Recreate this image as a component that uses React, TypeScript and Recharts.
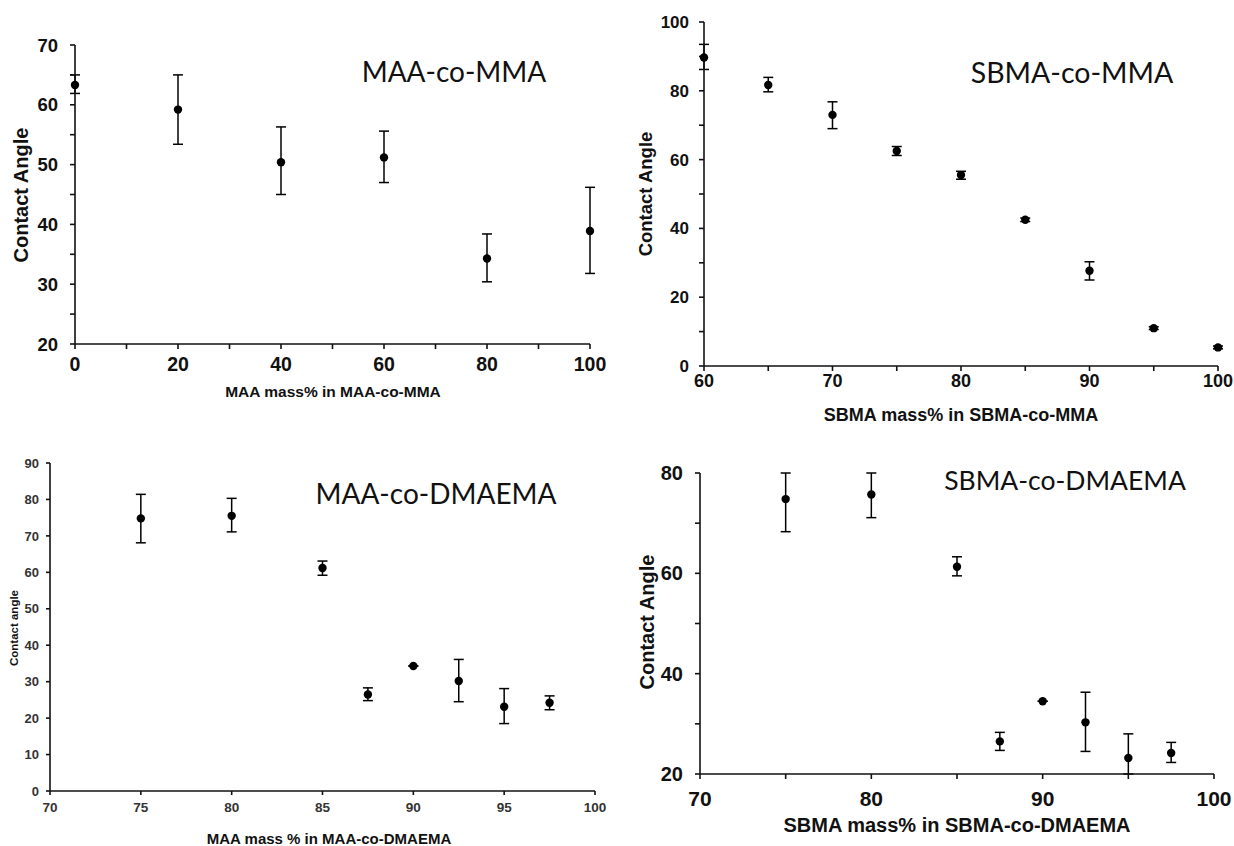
import { ScatterChart, Scatter, XAxis, YAxis, ErrorBar } from "recharts";

// MAA-co-MMA
const maaMmaX = [0, 20, 40, 60, 80, 100];
const maaMmaY = [63.3, 59.2, 50.4, 51.2, 34.3, 38.9];
const maaMmaLow = [61.9, 53.4, 45.0, 47.0, 30.4, 31.8];
const maaMmaHigh = [65.0, 65.0, 56.3, 55.6, 38.4, 46.2];

// SBMA-co-MMA
const sbmaMmaX = [60, 65, 70, 75, 80, 85, 90, 95, 100];
const sbmaMmaY = [89.7, 81.7, 73.0, 62.5, 55.5, 42.5, 27.7, 11.0, 5.4];
const sbmaMmaLow = [86.2, 79.7, 69.0, 61.2, 54.3, 42.0, 25.0, 10.6, 5.0];
const sbmaMmaHigh = [93.5, 83.9, 76.8, 63.8, 56.6, 43.0, 30.3, 11.4, 5.8];

// MAA-co-DMAEMA
const maaDmaemaX = [75, 80, 85, 87.5, 90, 92.5, 95, 97.5];
const maaDmaemaY = [74.8, 75.5, 61.2, 26.5, 34.3, 30.2, 23.1, 24.2];
const maaDmaemaLow = [68.1, 71.1, 59.2, 24.8, 34.3, 24.5, 18.5, 22.3];
const maaDmaemaHigh = [81.4, 80.3, 63.1, 28.3, 34.3, 36.1, 28.1, 26.1];

// SBMA-co-DMAEMA (bars cut at the plot frame, as drawn)
const sbmaDmaemaX = [75, 80, 85, 87.5, 90, 92.5, 95, 97.5];
const sbmaDmaemaY = [74.8, 75.7, 61.3, 26.5, 34.5, 30.3, 23.2, 24.2];
const sbmaDmaemaLow = [68.3, 71.1, 59.5, 24.7, 34.5, 24.5, 20.0, 22.3];
const sbmaDmaemaHigh = [80.0, 80.0, 63.3, 28.3, 34.5, 36.3, 28.0, 26.3];

// ticks (all positions) and the ones that get a label
const p1XTicks = [0, 10, 20, 30, 40, 50, 60, 70, 80, 90, 100];
const p1XLabels = [0, 20, 40, 60, 80, 100];
const p1YTicks = [20, 25, 30, 35, 40, 45, 50, 55, 60, 65, 70];
const p1YLabels = [20, 30, 40, 50, 60, 70];

const p2XTicks = [60, 65, 70, 75, 80, 85, 90, 95, 100];
const p2XLabels = [60, 70, 80, 90, 100];
const p2YTicks = [0, 10, 20, 30, 40, 50, 60, 70, 80, 90, 100];
const p2YLabels = [0, 20, 40, 60, 80, 100];

const p3XTicks = [70, 75, 80, 85, 90, 95, 100];
const p3XLabels = [70, 75, 80, 85, 90, 95, 100];
const p3YTicks = [0, 10, 20, 30, 40, 50, 60, 70, 80, 90];
const p3YLabels = [0, 10, 20, 30, 40, 50, 60, 70, 80, 90];

const p4XTicks = [70, 75, 80, 85, 90, 95, 100];
const p4XLabels = [70, 80, 90, 100];
const p4YTicks = [20, 30, 40, 50, 60, 70, 80];
const p4YLabels = [20, 40, 60, 80];

const buildRows = (xs: number[], ys: number[], lo: number[], hi: number[]) =>
  xs.map((x, i) => ({ x, y: ys[i], err: [ys[i] - lo[i], hi[i] - ys[i]] }));

const BOLD = "'Liberation Sans', Arial, sans-serif";
const TITLE = "Lato, 'Noto Sans', sans-serif";

interface PanelProps {
  rows: { x: number; y: number; err: number[] }[];
  plot: { left: number; top: number; right: number; bottom: number };
  xDomain: [number, number];
  yDomain: [number, number];
  xTicks: number[];
  xLabels: number[];
  yTicks: number[];
  yLabels: number[];
  xFont: number;
  yFont: number;
  tickColor?: string;
  tickSize: number;
  xGap: number;
  yGap: number;
}

function Panel({
  rows, plot, xDomain, yDomain, xTicks, xLabels, yTicks, yLabels,
  xFont, yFont, tickColor = "#111", tickSize, xGap, yGap,
}: PanelProps) {
  const yW = 70;
  const xH = 50;
  const padT = 12;
  const padR = 24;
  const w = plot.right - plot.left + yW + padR;
  const h = plot.bottom - plot.top + padT + xH;
  const font = { fill: tickColor, fontWeight: 700, fontFamily: BOLD };
  const line = { stroke: "#111", strokeWidth: 1.6 };
  return (
    <div style={{ position: "absolute", left: plot.left - yW, top: plot.top - padT }}>
      <ScatterChart width={w} height={h} margin={{ top: padT, right: padR, bottom: 0, left: 0 }}>
        <XAxis
          type="number" dataKey="x" domain={xDomain} ticks={xTicks} interval={0}
          height={xH} tick={{ ...font, fontSize: xFont }} tickSize={tickSize} tickMargin={xGap}
          axisLine={line} tickLine={line}
          tickFormatter={(v: number) => (xLabels.includes(v) ? String(v) : "")}
        />
        <YAxis
          type="number" dataKey="y" domain={yDomain} ticks={yTicks} interval={0}
          width={yW} tick={{ ...font, fontSize: yFont }} tickSize={tickSize} tickMargin={yGap}
          axisLine={line} tickLine={line}
          tickFormatter={(v: number) => (yLabels.includes(v) ? String(v) : "")}
        />
        <Scatter
          data={rows}
          isAnimationActive={false}
          shape={(p: any) => <circle cx={p.cx} cy={p.cy} r={4.2} fill="#000" />}
        >
          <ErrorBar dataKey="err" direction="y" width={5} stroke="#000" strokeWidth={1.5} />
        </Scatter>
      </ScatterChart>
    </div>
  );
}

function Txt({ x, y, size, children, rotate = false, bold = true, family = BOLD }: any) {
  return (
    <div
      style={{
        position: "absolute", left: x, top: y, whiteSpace: "nowrap",
        transform: `translate(-50%, -50%)${rotate ? " rotate(-90deg)" : ""}`,
        fontFamily: family, fontSize: size, fontWeight: bold ? 700 : 400,
        color: "#111", lineHeight: 1,
      }}
    >
      {children}
    </div>
  );
}

export default function App() {
  return (
    <div style={{ position: "absolute", left: 0, top: 0, width: 1234, height: 846, background: "#fff", overflow: "hidden" }}>
      <Panel
        rows={buildRows(maaMmaX, maaMmaY, maaMmaLow, maaMmaHigh)}
        plot={{ left: 75, top: 45, right: 590, bottom: 344 }}
        xDomain={[0, 100]} yDomain={[20, 70]}
        xTicks={p1XTicks} xLabels={p1XLabels} yTicks={p1YTicks} yLabels={p1YLabels}
        xFont={19.5} yFont={18.5} tickSize={5} xGap={8} yGap={12}
      />
      <Panel
        rows={buildRows(sbmaMmaX, sbmaMmaY, sbmaMmaLow, sbmaMmaHigh)}
        plot={{ left: 704, top: 22, right: 1218, bottom: 366 }}
        xDomain={[60, 100]} yDomain={[0, 100]}
        xTicks={p2XTicks} xLabels={p2XLabels} yTicks={p2YTicks} yLabels={p2YLabels}
        xFont={18} yFont={17} tickSize={5} xGap={3} yGap={10}
      />
      <Panel
        rows={buildRows(maaDmaemaX, maaDmaemaY, maaDmaemaLow, maaDmaemaHigh)}
        plot={{ left: 50, top: 463, right: 595, bottom: 791 }}
        xDomain={[70, 100]} yDomain={[0, 90]}
        xTicks={p3XTicks} xLabels={p3XLabels} yTicks={p3YTicks} yLabels={p3YLabels}
        xFont={13.5} yFont={13} tickColor="#333" tickSize={4} xGap={7} yGap={7}
      />
      <Panel
        rows={buildRows(sbmaDmaemaX, sbmaDmaemaY, sbmaDmaemaLow, sbmaDmaemaHigh)}
        plot={{ left: 700, top: 473, right: 1214, bottom: 774 }}
        xDomain={[70, 100]} yDomain={[20, 80]}
        xTicks={p4XTicks} xLabels={p4XLabels} yTicks={p4YTicks} yLabels={p4YLabels}
        xFont={21} yFont={20} tickSize={5} xGap={12} yGap={12}
      />

      <Txt x={454} y={71} size={28} bold={false} family={TITLE}>MAA-co-MMA</Txt>
      <Txt x={21} y={195} size={20} rotate>Contact Angle</Txt>
      <Txt x={333} y={392} size={15.5}>MAA mass% in MAA-co-MMA</Txt>

      <Txt x={1072} y={72} size={28.5} bold={false} family={TITLE}>SBMA-co-MMA</Txt>
      <Txt x={646} y={194} size={18.5} rotate>Contact Angle</Txt>
      <Txt x={961} y={415} size={18}>SBMA mass% in SBMA-co-MMA</Txt>

      <Txt x={436} y={493} size={28} bold={false} family={TITLE}>MAA-co-DMAEMA</Txt>
      <Txt x={15} y={628} size={11.5} rotate>Contact angle</Txt>
      <Txt x={329} y={838} size={15}>MAA mass % in MAA-co-DMAEMA</Txt>

      <Txt x={1065} y={480} size={26.5} bold={false} family={TITLE}>SBMA-co-DMAEMA</Txt>
      <Txt x={647} y={622} size={20} rotate>Contact Angle</Txt>
      <Txt x={957} y={825} size={20}>SBMA mass% in SBMA-co-DMAEMA</Txt>
    </div>
  );
}
